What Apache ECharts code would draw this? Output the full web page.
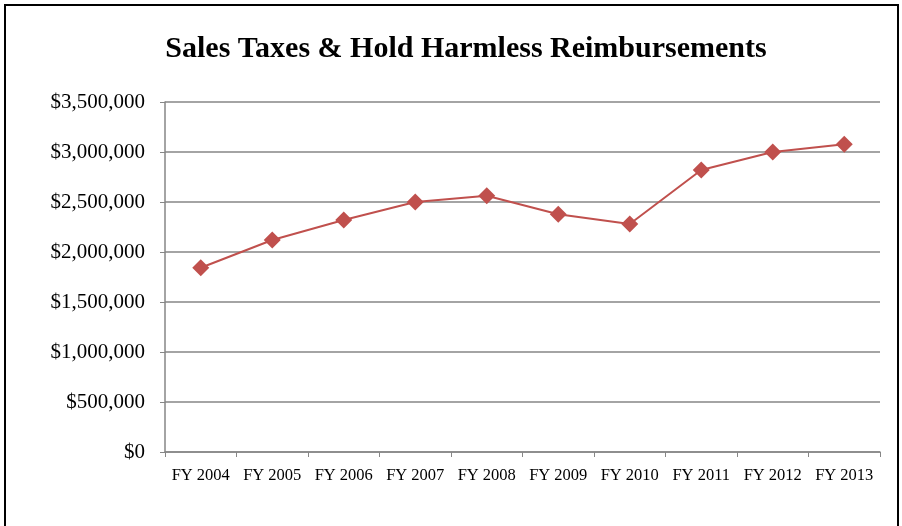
<!DOCTYPE html>
<html style="height: 100%">
	<head>
		<meta charset="utf-8" />
		<title>Sales Taxes &amp; Hold Harmless Reimbursements</title>
		<script type="text/javascript" src="https://cdn.jsdelivr.net/npm/echarts@6/dist/echarts.min.js"></script>
	</head>
	<body style="height: 100%; margin: 0; background: #fff;">
		<div id="container" style="width: 902px; height: 526px;"></div>
		<script type="text/javascript">
			var years = ['FY 2004', 'FY 2005', 'FY 2006', 'FY 2007', 'FY 2008', 'FY 2009', 'FY 2010', 'FY 2011', 'FY 2012', 'FY 2013'];
			var amounts = [1843000, 2120000, 2320000, 2500000, 2563000, 2377000, 2280000, 2820000, 3000000, 3077000];

			function money(v) {
				return '$' + String(v).replace(/\B(?=(\d{3})+(?!\d))/g, ',');
			}

			var myChart = echarts.init(document.getElementById('container'));
			var option = {
				animation: false,
				title: {
					text: 'Sales Taxes & Hold Harmless Reimbursements',
					left: 461,
					top: 29,
					textAlign: 'center',
					textStyle: {
						fontFamily: 'Liberation Serif',
						fontWeight: 'bold',
						fontSize: 30,
						color: '#000'
					}
				},
				graphic: [{
					type: 'rect',
					shape: { x: 5, y: 5, width: 893, height: 560 },
					style: { fill: 'none', stroke: '#000', lineWidth: 2 }
				}],
				grid: { left: 165, right: 22, top: 102, bottom: 74 },
				xAxis: {
					type: 'category',
					data: years,
					boundaryGap: true,
					axisLine: { lineStyle: { color: '#868686', width: 1.5 } },
					axisTick: { show: true, length: 5, lineStyle: { color: '#868686' } },
					axisLabel: {
						margin: 15,
						fontFamily: 'Liberation Serif',
						fontSize: 16.5,
						color: '#000',
						interval: 0
					}
				},
				yAxis: {
					type: 'value',
					min: 0,
					max: 3500000,
					interval: 500000,
					axisLine: { show: true, lineStyle: { color: '#868686', width: 1.5 } },
					axisTick: { show: true, length: 5, lineStyle: { color: '#868686' } },
					splitLine: { lineStyle: { color: '#868686', width: 1.5 } },
					axisLabel: {
						margin: 20,
						fontFamily: 'Liberation Serif',
						fontSize: 21,
						color: '#000',
						formatter: money
					}
				},
				series: [{
					type: 'line',
					data: amounts,
					symbol: 'diamond',
					symbolSize: 17,
					lineStyle: { color: '#C0504D', width: 2 },
					itemStyle: { color: '#C0504D' }
				}]
			};
			myChart.setOption(option);
		</script>
	</body>
</html>
